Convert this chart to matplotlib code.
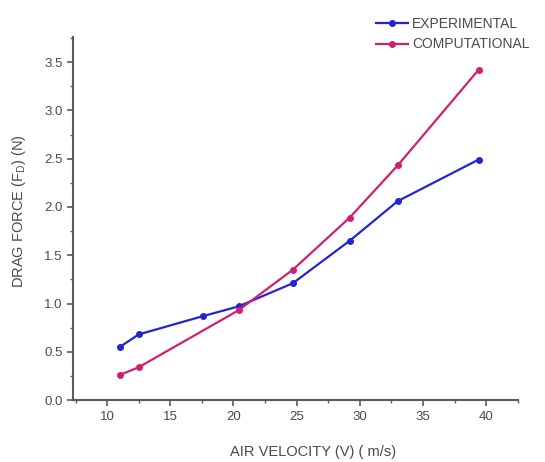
import matplotlib
matplotlib.use("Agg")
import matplotlib.pyplot as plt
from matplotlib.ticker import MultipleLocator

plt.rcParams["font.family"] = ["Liberation Sans", "DejaVu Sans"]

velocity_exp = [11.0, 12.5, 17.6, 20.4, 24.7, 29.2, 33.0, 39.4]
force_exp = [0.55, 0.68, 0.87, 0.97, 1.21, 1.65, 2.06, 2.49]

velocity_comp = [11.0, 12.5, 20.4, 24.7, 29.2, 33.0, 39.4]
force_comp = [0.26, 0.34, 0.93, 1.35, 1.89, 2.43, 3.42]

series_labels = ["EXPERIMENTAL", "COMPUTATIONAL"]

blue = "#2424d2"
magenta = "#d02070"
axis_grey = "#5a5a5a"
text_grey = "#4a4a4a"

fig = plt.figure(figsize=(5.45, 4.62), dpi=100)
ax = fig.add_axes([0.134, 0.134, 0.816, 0.786])

ax.plot(velocity_exp, force_exp, color=blue, lw=1.6, marker="o", ms=4,
        label=series_labels[0])
ax.plot(velocity_comp, force_comp, color=magenta, lw=1.6, marker="o", ms=4,
        label=series_labels[1])

ax.set_xlim(7.3, 42.5)
ax.set_ylim(0, 3.76)
ax.xaxis.set_minor_locator(MultipleLocator(2.5))
ax.yaxis.set_minor_locator(MultipleLocator(0.25))
ax.set_xticks([10, 15, 20, 25, 30, 35, 40])
ax.set_yticks([0.0, 0.5, 1.0, 1.5, 2.0, 2.5, 3.0, 3.5])
ax.set_yticklabels([f"{v:.1f}" for v in ax.get_yticks()])

for side in ("top", "right"):
    ax.spines[side].set_visible(False)
for side in ("left", "bottom"):
    ax.spines[side].set_color(axis_grey)
    ax.spines[side].set_linewidth(1.5)

ax.tick_params(which="major", direction="out", length=4, width=1.2,
               colors=axis_grey, labelcolor=text_grey, labelsize=9.5)
ax.tick_params(which="minor", direction="out", length=2.5, width=1.0,
               colors=axis_grey)

ax.set_xlabel("AIR VELOCITY (V) ( m/s)", fontsize=10.5, color=text_grey)
ax.xaxis.set_label_coords(0.54, -0.125)
ax.set_ylabel("DRAG FORCE (F$_\\mathregular{D}$) (N)", fontsize=10.5,
              color=text_grey)
ax.yaxis.set_label_coords(-0.102, 0.52)

fig.legend(loc="upper left", bbox_to_anchor=(0.667, 0.99),
           frameon=False, fontsize=10, handlelength=2.3,
           handletextpad=0.3, labelspacing=0.45, labelcolor=text_grey)

fig.savefig("out.png", dpi=100, facecolor="white")
